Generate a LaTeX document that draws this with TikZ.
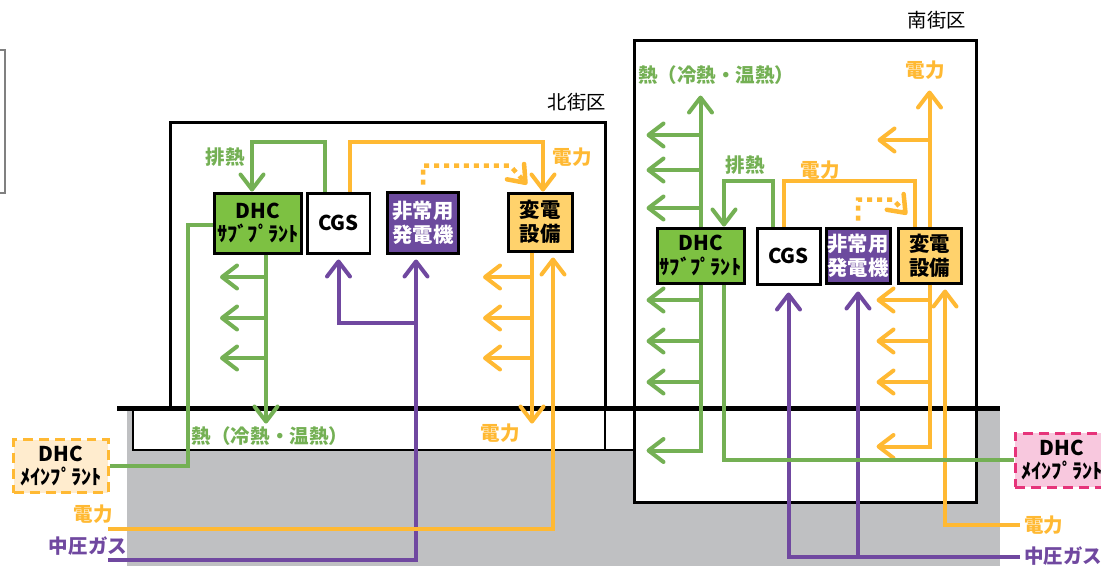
\documentclass[tikz,border=0pt]{standalone}
\usepackage{fontspec}
\setmainfont{Noto Sans CJK JP}
\usetikzlibrary{arrows.meta,calc,positioning}
\definecolor{HeatLine}{RGB}{116,176,84}
\definecolor{SubFill}{RGB}{125,193,66}
\definecolor{PowLine}{RGB}{255,185,51}
\definecolor{TrfFill}{RGB}{255,210,108}
\definecolor{GasLine}{RGB}{112,72,160}
\definecolor{GenFill}{RGB}{108,74,158}
\definecolor{MainFillN}{RGB}{255,236,206}
\definecolor{MainFillS}{RGB}{248,200,222}
\definecolor{MainLineS}{RGB}{230,52,122}
\definecolor{GroundFill}{RGB}{191,192,194}

\begin{document}
\begin{tikzpicture}[x=0.02cm,y=-0.02cm,
  heatline/.style={draw=HeatLine,line width=0.08cm},
  powline/.style={draw=PowLine,line width=0.08cm},
  gasline/.style={draw=GasLine,line width=0.08cm},
  arr/.style={-{Straight Barb[length=0.3cm,width=0.46cm,round]}},
  dotline/.style={draw=PowLine,line width=0.09cm,dash pattern=on 0.1cm off 0.1cm},
  plant/.style={draw,line width=0.06cm,align=center,inner sep=0pt,font=\bfseries\fontsize{11.6}{13.5}\selectfont},
  lbl/.style={inner sep=0pt,font=\bfseries\fontsize{11.1}{12}\selectfont},
  area/.style={inner sep=0pt,font=\fontsize{11}{12}\selectfont}]
\useasboundingbox (0,0) rectangle (1101,566);

\fill[GroundFill] (127,408) rectangle (1000,566);
\fill[white] (133,408) rectangle (634,450);
\draw[line width=0.05cm] (133,408) |- (634,450);
\draw[line width=0.05cm] (605,408) -- (605,450);
\draw[line width=0.06cm] (170,408) |- (605,122) -- (605,408);
\draw[line width=0.06cm,fill=white] (634,40) rectangle (976,502);
\draw[line width=0.1cm] (117,408) -- (1000,408);
\draw[gray,line width=0.04cm] (-5,50) rectangle (5,193);

\node[area,anchor=east] (narea) at (606,102) {北街区};
\node[area,anchor=east] (sarea) at (966,20) {南街区};

\node[plant,fill=SubFill,minimum width=1.76cm,minimum height=1.2cm] (nsub) at (258,223) {DHC\\ｻﾌﾞﾌﾟﾗﾝﾄ};
\node[plant,fill=white,minimum width=1.26cm,minimum height=1.2cm] (ncgs) at (338.5,223) {CGS};
\node[plant,fill=GenFill,text=white,minimum width=1.42cm,minimum height=1.22cm] (ngen) at (423,222.5) {非常用\\発電機};
\node[plant,fill=TrfFill,minimum width=1.28cm,minimum height=1.16cm] (ntrf) at (540,222) {変電\\設備};
\node[plant,fill=SubFill,minimum width=1.74cm,minimum height=1.1cm] (ssub) at (700.5,255.5) {DHC\\ｻﾌﾞﾌﾟﾗﾝﾄ};
\node[plant,fill=white,minimum width=1.26cm,minimum height=1.12cm] (scgs) at (788.5,256) {CGS};
\node[plant,fill=GenFill,text=white,minimum width=1.28cm,minimum height=1.1cm] (sgen) at (858,255.5) {非常用\\発電機};
\node[plant,fill=TrfFill,minimum width=1.26cm,minimum height=1.1cm] (strf) at (929.5,255.5) {変電\\設備};
\node[plant,fill=MainFillN,draw=PowLine,dash pattern=on 0.2cm off 0.12cm,minimum width=1.9cm,minimum height=1.06cm] (nmain) at (61,466) {DHC\\ﾒｲﾝﾌﾟﾗﾝﾄ};
\node[plant,fill=MainFillS,draw=MainLineS,dash pattern=on 0.2cm off 0.12cm,minimum width=1.88cm,minimum height=1.08cm] (smain) at (1062,460) {DHC\\ﾒｲﾝﾌﾟﾗﾝﾄ};

\coordinate (npow) at (108,529);
\coordinate (ngas) at (108,560);
\coordinate (spow) at (1020,525);
\coordinate (sgas) at (1020,557);

\draw[heatline,arr] ([xshift=-0.28cm]ncgs.north) -- ++(0,-50) -| ([xshift=-0.12cm]nsub.north);
\draw[powline,arr] ([xshift=0.23cm]ncgs.north) -- ++(0,-50) -| ([xshift=0.06cm]ntrf.north);
\draw[dotline,arr] ([yshift=0.12cm]ngen.north) -- ++(0,-19) -- ++(87,0) -- ([xshift=-0.26cm,yshift=0.14cm]ntrf.north);
\coordinate (ntrunk) at ([xshift=0.16cm]nsub.south);
\draw[heatline,arr] (ntrunk) -- ++(0,169) coordinate (nheat);
\foreach \y in {277,318,358} \draw[heatline,arr] (ntrunk |- 0,\y) -- ++(-46,0);
\draw[heatline] (nmain.east) -| ([xshift=-0.5cm,yshift=-0.04cm]nsub.west) -- ([yshift=-0.04cm]nsub.west);
\coordinate (ngentr) at ([xshift=-0.14cm,yshift=-0.1cm]ngen.south);
\draw[gasline,arr] (ngas) -| (ngentr);
\draw[gasline,arr] (ngentr |- 0,323) -| ([yshift=-0.1cm]ncgs.south);
\draw[powline,arr] (npow) -| ([xshift=0.26cm,yshift=-0.1cm]ntrf.south);
\coordinate (ntrfdn) at ([xshift=-0.16cm]ntrf.south);
\draw[powline,arr] (ntrfdn) -- (ntrfdn |- nheat);
\foreach \y in {277,318,358} \draw[powline,arr] (ntrfdn |- 0,\y) -- ++(-49,0);

\draw[heatline,arr] (ssub.north) -- ++(0,-131);
\foreach \y in {135,170,208} \draw[heatline,arr] (ssub.north |- 0,\y) -- ++(-54,0);
\draw[heatline,arr] (ssub.south) -- ++(0,166) -- ++(-54,0);
\foreach \y in {300,341,382} \draw[heatline,arr] (ssub.south |- 0,\y) -- ++(-54,0);
\draw[heatline,arr] ([xshift=-0.31cm]scgs.north) -- ++(0,-46) -| ([xshift=0.47cm]ssub.north);
\draw[powline] ([xshift=-0.09cm]scgs.north) -- ++(0,-46) -| ([xshift=-0.29cm]strf.north);
\draw[dotline,arr] ([yshift=0.12cm]sgen.north) -- ++(0,-21) -- ++(35,0) -- ([xshift=-0.45cm,yshift=0.24cm]strf.north);
\draw[powline,arr] (strf.north) -- ++(0,-136);
\draw[powline,arr] (strf.north |- 0,140) -- ++(-52,0);
\draw[powline,arr] (strf.south) -- ++(0,162) -- ++(-53,0);
\foreach \y in {300,341,382} \draw[powline,arr] (strf.south |- 0,\y) -- ++(-53,0);
\draw[powline,arr] (spow) -| ([xshift=0.31cm,yshift=-0.1cm]strf.south);
\draw[gasline,arr] (sgas) -| ([yshift=-0.14cm]scgs.south);
\draw[gasline,arr] (sgen.south |- sgas) -- ([yshift=-0.14cm]sgen.south);
\draw[heatline] (smain.west) -| ([xshift=0.47cm]ssub.south);

\node[lbl,text=HeatLine] (nexh) at (225,157) {排熱};
\node[lbl,text=PowLine] (npowtop) at (572,157) {電力};
\node[lbl,text=HeatLine] (nheatlbl) at (270,436) {熱（冷熱・温熱）};
\node[lbl,text=PowLine] (npowbot) at (500,433) {電力};
\node[lbl,text=PowLine] (npowlbl) at (93,514) {電力};
\node[lbl,text=GasLine] (ngaslbl) at (88,546) {中圧ガス};
\node[lbl,text=HeatLine] (sheatlbl) at (716,75) {熱（冷熱・温熱）};
\node[lbl,text=PowLine] (spowtop) at (925,70) {電力};
\node[lbl,text=HeatLine] (sexh) at (745,165) {排熱};
\node[lbl,text=PowLine] (spowmid) at (820,170) {電力};
\node[lbl,text=PowLine,anchor=west] (spowlbl) at (1024,525) {電力};
\node[lbl,text=GasLine,anchor=west] (sgaslbl) at (1024,556) {中圧ガス};
\end{tikzpicture}
\end{document}
